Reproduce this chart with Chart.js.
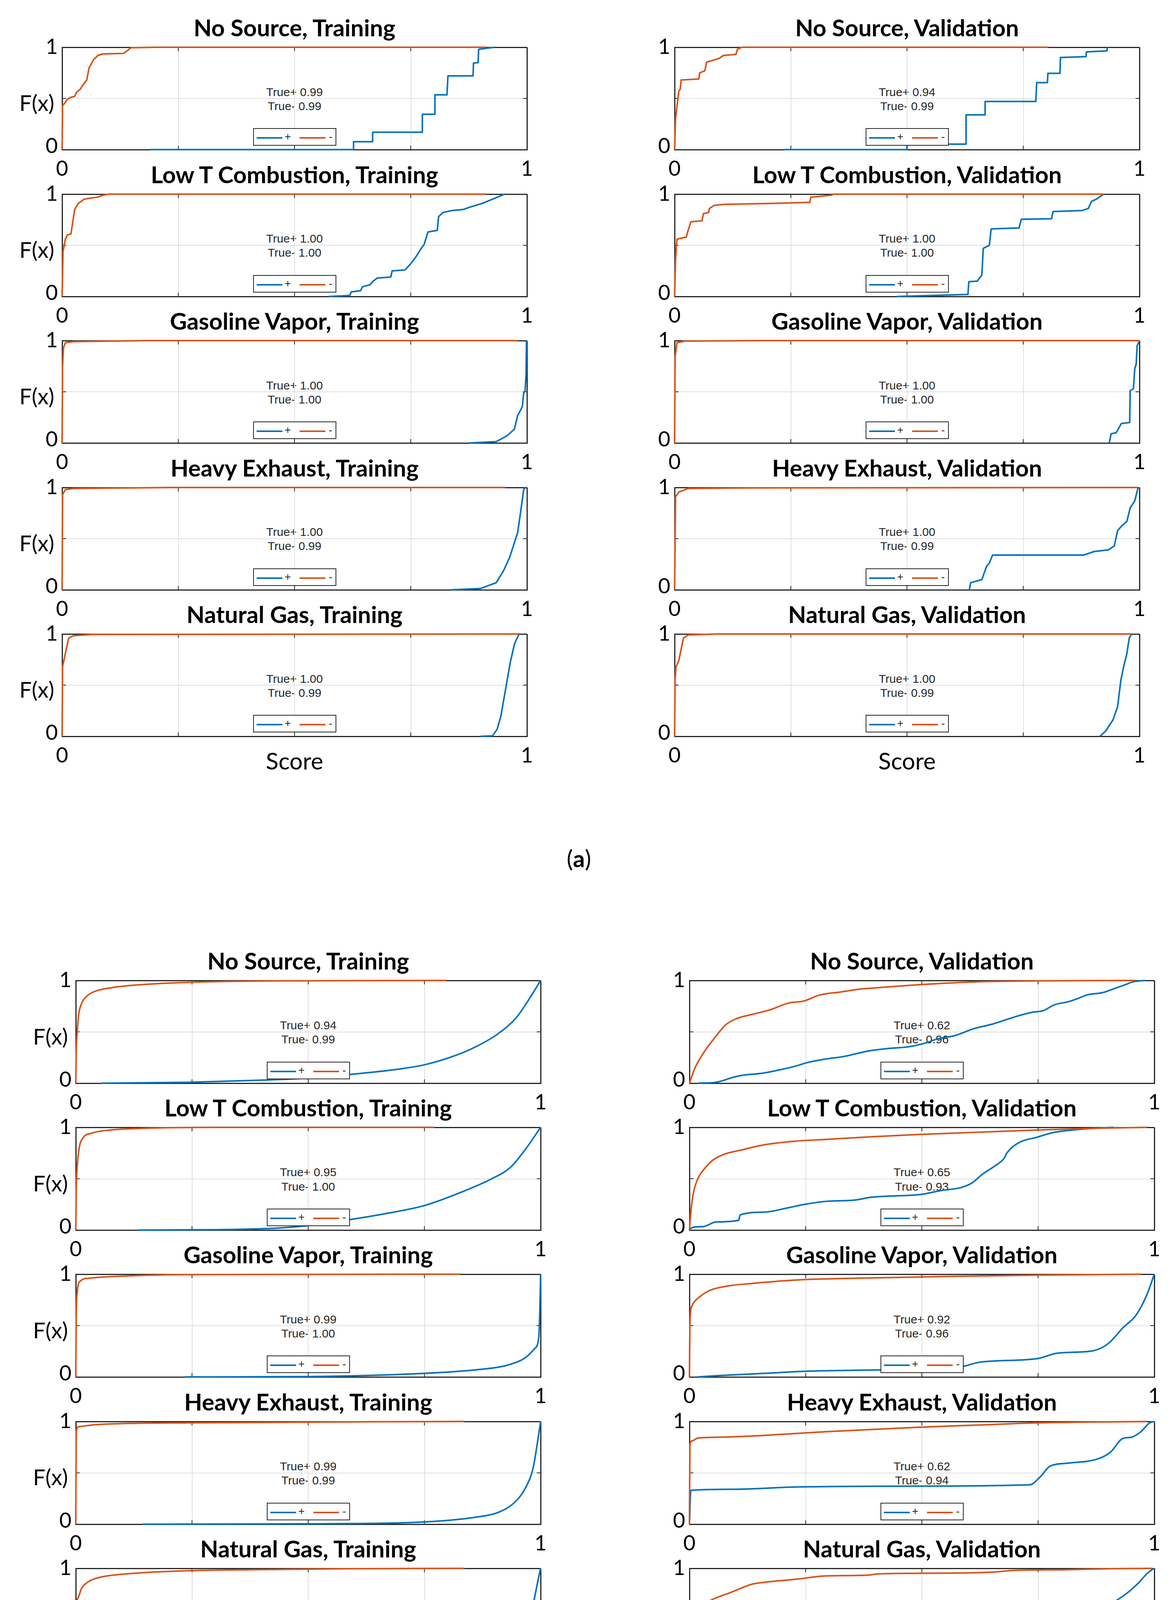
<!DOCTYPE html>
<html>
<head>
<meta charset="utf-8">
<script src="https://cdn.jsdelivr.net/npm/chart.js@4.4.1/dist/chart.umd.min.js"></script>
<style>
  html, body { margin: 0; padding: 0; background: #fff; }
  #fig { position: relative; width: 3008px; height: 4669px; overflow: hidden; background: #fff; }
  .t { position: absolute; white-space: nowrap; line-height: 1; color: #000; }
  .title { font: bold 60px Lato, sans-serif; transform: translate(-50%, -50%); }
  .tick { font: 54px Lato, sans-serif; }
  .ctr { transform: translate(-50%, -50%); }
  .rgt { transform: translate(-100%, -50%); }
  .ylab { font: 56px Lato, sans-serif; transform: translate(-100%, -50%); }
  .xlab { font: 60px Lato, sans-serif; transform: translate(-50%, -50%); }
  .sub { font: 60px Lato, sans-serif; transform: translate(-50%, -50%); }
  .note { font: 30px "Liberation Sans", Arial, sans-serif; color: #262626; transform: translate(-50%, -50%); z-index: 1; }
  canvas { position: absolute; z-index: 2; }
  .leg { position: absolute; width: 209px; height: 41px; border: 2px solid #262626; background: #fff; z-index: 3; }
  .leg i { position: absolute; top: 21px; height: 4px; width: 66px; }
  .leg span { position: absolute; top: 6px; font: 28px "Liberation Sans", Arial, sans-serif; color: #262626; line-height: 1; }
</style>
</head>
<body>
<div id="fig"></div>
<script>
// row names and classifier scores shown in each panel
const sources = ['No Source', 'Low T Combustion', 'Gasoline Vapor', 'Heavy Exhaust', 'Natural Gas'];
const truePlusATrain = ['0.99', '1.00', '1.00', '1.00', '1.00'];
const trueMinusATrain = ['0.99', '1.00', '1.00', '0.99', '0.99'];
const truePlusAVal = ['0.94', '1.00', '1.00', '1.00', '1.00'];
const trueMinusAVal = ['0.99', '1.00', '1.00', '0.99', '0.99'];
const truePlusBTrain = ['0.94', '0.95', '0.99', '0.99', '0.98'];
const trueMinusBTrain = ['0.99', '1.00', '1.00', '0.99', '0.98'];
const truePlusBVal = ['0.62', '0.65', '0.92', '0.62', '0.83'];
const trueMinusBVal = ['0.96', '0.93', '0.96', '0.94', '0.95'];

// CDF curves, [score, F(x)]
// (a) training
const aTrNoSrcNeg = [[0,0],[0.001,0.43],[0.005,0.45],[0.011,0.49],[0.018,0.51],[0.027,0.52],[0.031,0.56],[0.039,0.59],[0.043,0.62],[0.053,0.68],[0.058,0.8],[0.068,0.88],[0.077,0.92],[0.088,0.935],[0.132,0.94],[0.14,0.965],[0.148,0.995],[0.2,1],[0.912,1]];
const aTrNoSrcPos = [[0.19,0],[0.627,0],[0.627,0.077],[0.668,0.077],[0.668,0.17],[0.775,0.17],[0.775,0.345],[0.802,0.345],[0.802,0.535],[0.828,0.535],[0.83,0.72],[0.884,0.72],[0.885,0.845],[0.895,0.85],[0.896,0.98],[0.93,1]];
const aTrLowTNeg = [[0,0],[0.002,0.44],[0.007,0.56],[0.011,0.6],[0.019,0.61],[0.023,0.73],[0.027,0.85],[0.035,0.91],[0.047,0.95],[0.059,0.96],[0.076,0.97],[0.088,0.99],[0.1,1],[0.912,1]];
const aTrLowTPos = [[0.574,0],[0.619,0.01],[0.622,0.045],[0.642,0.056],[0.646,0.095],[0.662,0.114],[0.67,0.153],[0.678,0.18],[0.707,0.19],[0.71,0.25],[0.738,0.26],[0.75,0.32],[0.763,0.4],[0.771,0.46],[0.779,0.51],[0.787,0.63],[0.807,0.646],[0.81,0.78],[0.819,0.82],[0.839,0.84],[0.863,0.85],[0.875,0.87],[0.904,0.91],[0.928,0.955],[0.952,1]];
const aTrGasNeg = [[0,0],[0.001,0.75],[0.003,0.93],[0.007,0.98],[0.024,0.99],[0.18,1],[0.98,1]];
const aTrGasPos = [[0.877,0],[0.934,0.013],[0.957,0.07],[0.973,0.135],[0.98,0.27],[0.985,0.31],[0.99,0.355],[0.993,0.49],[0.996,0.51],[0.998,0.66],[0.999,1]];
const aTrHeavyNeg = [[0,0],[0.001,0.93],[0.007,0.98],[0.024,0.99],[0.236,1],[0.953,1]];
const aTrHeavyPos = [[0.837,0],[0.9,0.013],[0.934,0.07],[0.95,0.19],[0.963,0.32],[0.98,0.56],[0.987,0.78],[0.993,0.98],[0.997,1]];
const aTrNatGasNeg = [[0,0],[0.001,0.68],[0.007,0.81],[0.014,0.96],[0.024,0.983],[0.064,0.995],[0.983,1]];
const aTrNatGasPos = [[0.9,0],[0.926,0.005],[0.936,0.07],[0.944,0.2],[0.954,0.46],[0.964,0.72],[0.973,0.9],[0.983,1]];
// (a) validation
const aVaNoSrcNeg = [[0,0],[0.002,0.3],[0.005,0.42],[0.009,0.57],[0.012,0.59],[0.014,0.68],[0.052,0.69],[0.054,0.75],[0.065,0.77],[0.069,0.855],[0.095,0.89],[0.105,0.92],[0.132,0.93],[0.135,0.98],[0.145,1],[0.804,1]];
const aVaNoSrcPos = [[0.235,0],[0.5,0],[0.5,0.053],[0.627,0.053],[0.627,0.34],[0.668,0.34],[0.668,0.47],[0.777,0.47],[0.779,0.655],[0.802,0.655],[0.803,0.745],[0.829,0.745],[0.83,0.9],[0.885,0.908],[0.886,0.955],[0.93,0.965],[0.931,1]];
const aVaLowTNeg = [[0,0],[0.002,0.36],[0.005,0.56],[0.025,0.58],[0.029,0.645],[0.035,0.73],[0.059,0.74],[0.062,0.81],[0.073,0.82],[0.075,0.86],[0.085,0.89],[0.105,0.9],[0.218,0.91],[0.291,0.92],[0.293,0.97],[0.338,0.99],[0.341,1],[0.923,1]];
const aVaLowTPos = [[0.478,0],[0.631,0.02],[0.633,0.145],[0.651,0.15],[0.661,0.21],[0.664,0.47],[0.677,0.5],[0.681,0.66],[0.741,0.67],[0.746,0.755],[0.811,0.76],[0.814,0.83],[0.877,0.84],[0.89,0.86],[0.897,0.93],[0.907,0.95],[0.923,1]];
const aVaGasNeg = [[0,0],[0.001,0.84],[0.005,0.98],[0.022,0.995],[0.18,1],[1,1]];
const aVaGasPos = [[0.935,0],[0.939,0.09],[0.95,0.1],[0.961,0.19],[0.979,0.2],[0.98,0.51],[0.987,0.53],[0.99,0.73],[0.993,0.77],[0.995,0.95],[1,1]];
const aVaHeavyNeg = [[0,0],[0.002,0.91],[0.009,0.956],[0.029,0.99],[0.168,0.996],[0.997,1]];
const aVaHeavyPos = [[0.634,0],[0.637,0.07],[0.661,0.1],[0.671,0.23],[0.677,0.26],[0.684,0.34],[0.88,0.34],[0.903,0.375],[0.933,0.39],[0.946,0.43],[0.953,0.58],[0.963,0.63],[0.973,0.67],[0.98,0.8],[0.99,0.87],[0.997,1]];
const aVaNatGasNeg = [[0,0],[0.001,0.55],[0.003,0.68],[0.009,0.74],[0.014,0.85],[0.019,0.96],[0.029,0.99],[0.092,1],[0.983,1]];
const aVaNatGasPos = [[0.915,0],[0.927,0.05],[0.943,0.16],[0.953,0.29],[0.96,0.55],[0.966,0.68],[0.973,0.81],[0.978,0.96],[0.983,1]];
// (b) training
const bTrNoSrcNeg = [[0,0],[0.001,0.31],[0.003,0.49],[0.006,0.66],[0.012,0.77],[0.022,0.84],[0.039,0.89],[0.078,0.93],[0.143,0.96],[0.254,0.983],[0.438,0.996],[0.797,1]];
const bTrNoSrcPos = [[0.055,0],[0.241,0.009],[0.405,0.03],[0.503,0.05],[0.601,0.09],[0.699,0.14],[0.751,0.18],[0.817,0.27],[0.863,0.36],[0.908,0.48],[0.948,0.64],[0.974,0.81],[1,1]];
const bTrLowTNeg = [[0,0],[0.001,0.39],[0.003,0.61],[0.007,0.79],[0.016,0.9],[0.032,0.94],[0.065,0.97],[0.143,0.99],[0.307,1],[0.771,1]];
const bTrLowTPos = [[0.133,0],[0.307,0.004],[0.437,0.02],[0.5,0.044],[0.568,0.087],[0.666,0.16],[0.751,0.24],[0.83,0.37],[0.895,0.5],[0.935,0.61],[0.968,0.79],[1,1]];
const bTrGasNeg = [[0,0],[0.001,0.6],[0.003,0.82],[0.009,0.93],[0.026,0.96],[0.11,0.983],[0.241,0.996],[0.827,1]];
const bTrGasPos = [[0.235,0],[0.503,0.004],[0.751,0.035],[0.863,0.07],[0.928,0.114],[0.968,0.19],[0.987,0.275],[0.996,0.385],[0.998,0.6],[1,1]];
const bTrHeavyNeg = [[0,0],[0.001,0.9],[0.006,0.95],[0.045,0.97],[0.241,0.987],[0.836,1]];
const bTrHeavyPos = [[0.144,0],[0.503,0.004],[0.765,0.026],[0.863,0.07],[0.908,0.114],[0.941,0.2],[0.967,0.35],[0.984,0.55],[0.993,0.79],[1,1]];
const bTrNatGasNeg = [[0,0],[0.001,0.588],[0.005,0.714],[0.012,0.801],[0.025,0.864],[0.045,0.905],[0.078,0.933],[0.145,0.958],[0.245,0.977],[0.377,0.987],[0.577,0.996],[0.836,1]];
const bTrNatGasPos = [[0.245,0],[0.377,0.008],[0.51,0.025],[0.643,0.045],[0.75,0.067],[0.843,0.098],[0.896,0.136],[0.93,0.186],[0.95,0.249],[0.963,0.337],[0.977,0.487],[0.987,0.714],[0.997,0.94],[1,1]];
// (b) validation
const bVaNoSrcNeg = [[0,0],[0.011,0.14],[0.024,0.25],[0.037,0.34],[0.054,0.44],[0.077,0.565],[0.102,0.63],[0.135,0.67],[0.174,0.715],[0.213,0.78],[0.246,0.8],[0.279,0.857],[0.324,0.887],[0.37,0.917],[0.422,0.935],[0.488,0.957],[0.553,0.974],[0.618,0.987],[0.749,0.996],[0.959,1]];
const bVaNoSrcPos = [[0.018,0],[0.057,0.009],[0.096,0.06],[0.115,0.078],[0.155,0.096],[0.194,0.13],[0.227,0.165],[0.253,0.2],[0.292,0.235],[0.332,0.26],[0.384,0.313],[0.422,0.335],[0.475,0.357],[0.507,0.39],[0.533,0.43],[0.572,0.465],[0.611,0.53],[0.651,0.574],[0.703,0.65],[0.737,0.69],[0.761,0.706],[0.785,0.763],[0.816,0.794],[0.836,0.825],[0.855,0.859],[0.889,0.882],[0.911,0.916],[0.937,0.958],[0.956,0.989],[0.981,1]];
const bVaLowTNeg = [[0,0],[0.003,0.175],[0.008,0.35],[0.018,0.5],[0.031,0.59],[0.05,0.68],[0.076,0.74],[0.109,0.777],[0.161,0.83],[0.227,0.865],[0.292,0.882],[0.39,0.908],[0.488,0.93],[0.618,0.952],[0.749,0.974],[0.879,0.991],[0.984,1]];
const bVaLowTPos = [[0,0.01],[0.011,0.03],[0.031,0.035],[0.057,0.079],[0.106,0.096],[0.109,0.148],[0.161,0.175],[0.213,0.218],[0.246,0.249],[0.292,0.279],[0.357,0.293],[0.39,0.319],[0.501,0.349],[0.54,0.384],[0.585,0.415],[0.608,0.459],[0.631,0.546],[0.657,0.624],[0.677,0.699],[0.683,0.751],[0.709,0.852],[0.748,0.904],[0.781,0.948],[0.846,0.983],[0.912,1]];
const bVaGasNeg = [[0,0],[0.001,0.515],[0.005,0.69],[0.011,0.734],[0.021,0.777],[0.044,0.843],[0.083,0.886],[0.129,0.908],[0.227,0.943],[0.357,0.961],[0.553,0.978],[0.749,0.991],[0.971,1]];
const bVaGasPos = [[0.018,0],[0.063,0.013],[0.161,0.035],[0.259,0.057],[0.422,0.07],[0.585,0.1],[0.625,0.144],[0.749,0.179],[0.791,0.231],[0.866,0.253],[0.892,0.297],[0.908,0.354],[0.931,0.472],[0.961,0.603],[0.984,0.8],[1,1]];
const bVaHeavyNeg = [[0,0],[0.001,0.77],[0.005,0.81],[0.018,0.838],[0.063,0.847],[0.161,0.865],[0.292,0.9],[0.488,0.943],[0.618,0.965],[0.749,0.987],[0.984,1]];
const bVaHeavyPos = [[0,0],[0.003,0.33],[0.096,0.34],[0.227,0.362],[0.488,0.371],[0.732,0.384],[0.755,0.463],[0.775,0.563],[0.814,0.594],[0.88,0.638],[0.906,0.703],[0.932,0.834],[0.951,0.847],[0.971,0.9],[0.99,0.987],[1,1]];
const bVaNatGasNeg = [[0,0],[0.001,0.286],[0.008,0.462],[0.021,0.588],[0.041,0.676],[0.061,0.72],[0.088,0.764],[0.134,0.845],[0.161,0.864],[0.234,0.896],[0.287,0.925],[0.38,0.933],[0.407,0.946],[0.5,0.952],[0.646,0.962],[0.699,0.98],[0.811,0.987],[0.912,0.997],[0.995,1]];
const bVaNatGasPos = [[0,0.016],[0.048,0.054],[0.088,0.085],[0.181,0.098],[0.241,0.117],[0.314,0.129],[0.367,0.138],[0.407,0.158],[0.58,0.211],[0.67,0.255],[0.693,0.299],[0.753,0.362],[0.806,0.462],[0.833,0.518],[0.852,0.575],[0.906,0.657],[0.939,0.751],[0.966,0.858],[0.985,0.952],[0.999,1]];

const BLUE = '#0072BD';
const ORANGE = '#D95319';
const AXIS = '#262626';
const GRID = '#dfdfdf';

// axes boxes of the two figure parts, in page pixels
const parts = [
  { tag: 'a', top: 121, step: 375.5, h: 262, lefts: [159, 1727], w: 1190, labelY: 2197, smooth: false,
    truePlus: [truePlusATrain, truePlusAVal], trueMinus: [trueMinusATrain, trueMinusAVal],
    neg: [[aTrNoSrcNeg, aTrLowTNeg, aTrGasNeg, aTrHeavyNeg, aTrNatGasNeg], [aVaNoSrcNeg, aVaLowTNeg, aVaGasNeg, aVaHeavyNeg, aVaNatGasNeg]],
    pos: [[aTrNoSrcPos, aTrLowTPos, aTrGasPos, aTrHeavyPos, aTrNatGasPos], [aVaNoSrcPos, aVaLowTPos, aVaGasPos, aVaHeavyPos, aVaNatGasPos]] },
  { tag: 'b', top: 2510, step: 376.2, h: 263, lefts: [194, 1765], w: 1190, labelY: 4588, smooth: true,
    truePlus: [truePlusBTrain, truePlusBVal], trueMinus: [trueMinusBTrain, trueMinusBVal],
    neg: [[bTrNoSrcNeg, bTrLowTNeg, bTrGasNeg, bTrHeavyNeg, bTrNatGasNeg], [bVaNoSrcNeg, bVaLowTNeg, bVaGasNeg, bVaHeavyNeg, bVaNatGasNeg]],
    pos: [[bTrNoSrcPos, bTrLowTPos, bTrGasPos, bTrHeavyPos, bTrNatGasPos], [bVaNoSrcPos, bVaLowTPos, bVaGasPos, bVaHeavyPos, bVaNatGasPos]] }
];
const phases = ['Training', 'Validation'];
const PAD = 14;

const fig = document.getElementById('fig');

function addText(html, x, y, cls) {
  let d = document.createElement('div');
  d.className = 't ' + cls;
  d.innerHTML = html;
  d.style.left = x + 'px';
  d.style.top = y + 'px';
  fig.appendChild(d);
  return d;
}

function toXY(arr) {
  return arr.map(p => ({ x: p[0], y: p[1] }));
}

// MATLAB style tick marks pointing into the box
const innerTicks = {
  id: 'innerTicks',
  beforeDatasetsDraw(chart) {
    const { ctx, chartArea: a, scales } = chart;
    ctx.save();
    ctx.strokeStyle = AXIS;
    ctx.lineWidth = 2;
    ctx.beginPath();
    scales.x.ticks.forEach(t => {
      if (t.value <= 0 || t.value >= 1) return;
      let px = scales.x.getPixelForValue(t.value);
      ctx.moveTo(px, a.bottom); ctx.lineTo(px, a.bottom - 10);
      ctx.moveTo(px, a.top); ctx.lineTo(px, a.top + 10);
    });
    scales.y.ticks.forEach(t => {
      if (t.value <= 0 || t.value >= 1) return;
      let py = scales.y.getPixelForValue(t.value);
      ctx.moveTo(a.left, py); ctx.lineTo(a.left + 10, py);
      ctx.moveTo(a.right, py); ctx.lineTo(a.right - 10, py);
    });
    ctx.stroke();
    ctx.restore();
  }
};

function gridColor(c) {
  return (c.tick && (c.tick.value === 0 || c.tick.value === 1)) ? AXIS : GRID;
}
function gridWidth(c) {
  return (c.tick && (c.tick.value === 0 || c.tick.value === 1)) ? 3 : 2;
}

function lineSet(label, arr, color, smooth) {
  let ds = { label: label, data: toXY(arr), borderColor: color, borderWidth: 4, pointRadius: 0,
             tension: 0, clip: false, borderJoinStyle: 'round' };
  if (smooth) ds.cubicInterpolationMode = 'monotone';
  return ds;
}

function drawPanel(part, col, row) {
  const left = part.lefts[col];
  const top = part.top + row * part.step;
  const w = part.w, h = part.h;
  const cx = left + w / 2;

  addText(sources[row] + ', ' + phases[col], cx, top - 51, 'title');
  addText('1', left - 11, top - 4, 'tick rgt');
  addText('0', left - 11, top + h - 12, 'tick rgt');
  addText('0', left, top + h + 46, 'tick ctr');
  addText('1', left + w, top + h + 46, 'tick ctr');
  if (col === 0) addText('F(x)', left - 20, top + h / 2 + 10, 'ylab');
  if (row === 4) addText('Score', cx, top + h + 62, 'xlab');

  addText('True+ ' + part.truePlus[col][row], cx, top + h * (1 - 0.562), 'note');
  addText('True- ' + part.trueMinus[col][row], cx, top + h * (1 - 0.424), 'note');

  let cv = document.createElement('canvas');
  cv.width = w + 2 * PAD;
  cv.height = h + 2 * PAD;
  cv.style.left = (left - PAD) + 'px';
  cv.style.top = (top - PAD) + 'px';
  fig.appendChild(cv);

  let leg = document.createElement('div');
  leg.className = 'leg';
  leg.style.left = (cx - 106.5) + 'px';
  leg.style.top = (top + h - 10 - 45) + 'px';
  leg.innerHTML = '<i style="left:7px;background:' + BLUE + '"></i><span style="left:79px">+</span>' +
                  '<i style="left:117px;background:' + ORANGE + '"></i><span style="left:192px">-</span>';
  fig.appendChild(leg);

  new Chart(cv, {
    type: 'line',
    data: {
      datasets: [
        lineSet('-', part.neg[col][row], ORANGE, part.smooth),
        lineSet('+', part.pos[col][row], BLUE, part.smooth)
      ]
    },
    options: {
      responsive: false,
      devicePixelRatio: 1,
      animation: false,
      events: [],
      layout: { padding: PAD },
      plugins: { legend: { display: false }, tooltip: { enabled: false } },
      scales: {
        x: {
          type: 'linear', min: 0, max: 1,
          ticks: { display: false, stepSize: 0.25 },
          grid: { color: gridColor, lineWidth: gridWidth, drawTicks: false },
          border: { display: true, color: AXIS, width: 3 }
        },
        y: {
          type: 'linear', min: 0, max: 1,
          ticks: { display: false, stepSize: 0.5 },
          grid: { color: gridColor, lineWidth: gridWidth, drawTicks: false },
          border: { display: true, color: AXIS, width: 3 }
        }
      }
    },
    plugins: [innerTicks]
  });
}

parts.forEach(part => {
  for (let col = 0; col < 2; col++) {
    for (let row = 0; row < 5; row++) drawPanel(part, col, row);
  }
  addText('(<b>' + part.tag + '</b>)', 1482, part.labelY, 'sub');
});
</script>
</body>
</html>
